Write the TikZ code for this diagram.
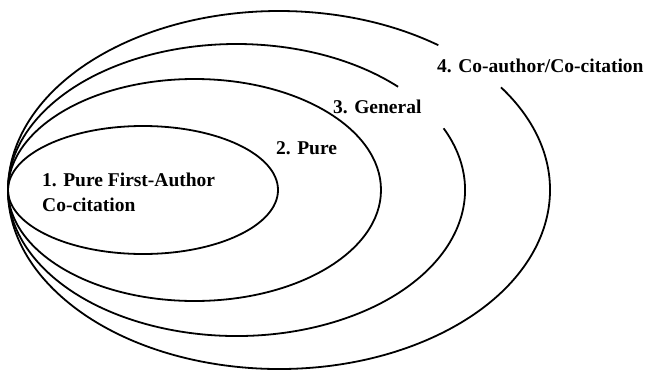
\documentclass[tikz,border=0pt]{standalone}
\usepackage{fontspec}
\setmainfont{Liberation Serif}
\usepackage{tikz}
\usetikzlibrary{positioning}

\begin{document}
\begin{tikzpicture}[x=1pt,y=-1pt]
\tikzset{
 ring/.style={draw=black,line width=1.8pt},
 lbl/.style={font=\fontsize{19.5}{25}\selectfont\bfseries,inner sep=0pt,align=left}
}
\useasboundingbox (0,0) rectangle (647,372);
% outer two rings leave a gap for their labels
\draw[ring] (279,190) ++(-35:271 and 179) arc [start angle=-35,end angle=306,x radius=271,y radius=179];
\draw[ring] (236.5,190) ++(-25:228.5 and 146) arc [start angle=-25,end angle=315,x radius=228.5,y radius=146];
\draw[ring] (194.5,190) ellipse [x radius=186.5,y radius=111];
\draw[ring] (143,190) ellipse [x radius=135,y radius=64];
\node[lbl,anchor=west] (first) at (42,192) {1. Pure First-Author\\Co-citation};
\node[lbl,anchor=west] (pure) at (276,148) {2. Pure};
\node[lbl,anchor=west] (general) at (333,107) {3. General};
\node[lbl,anchor=west] (coauth) at (437,66) {4. Co-author/Co-citation};
\end{tikzpicture}
\end{document}
